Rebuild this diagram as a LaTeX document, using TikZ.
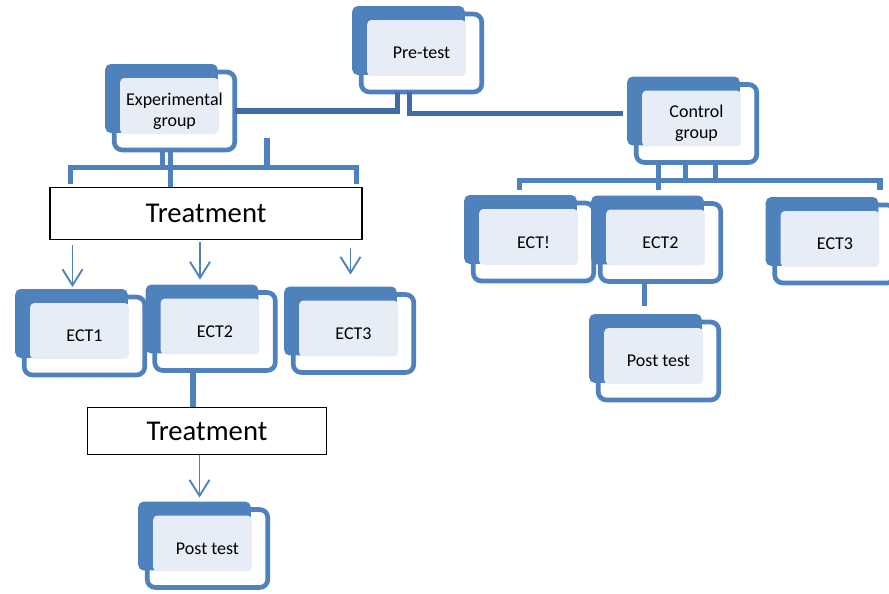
\documentclass[tikz,border=0pt]{standalone}
\usepackage{fontspec}
\setmainfont{Carlito}
\usepackage{tikz}
\usetikzlibrary{calc,positioning,arrows.meta}
\pgfdeclarelayer{background}
\pgfsetlayers{background,main}
\definecolor{bo}{RGB}{79,129,189}
\definecolor{bd}{RGB}{65,108,163}
\definecolor{bl}{RGB}{231,237,246}
\tikzset{
  card/.style={minimum width=90pt,minimum height=58pt,inner sep=0pt,align=center,
               font=\fontsize{13.5}{15.5}\selectfont},
  treat/.style={draw,line width=1.1pt,fill=white,inner sep=0pt,
               font=\fontsize{21.5}{24}\selectfont},
  link/.style={bo,line width=3.8pt},
  pil/.style={bo,line width=1.4pt,-{Straight Barb[length=12pt,width=15pt]}}
}
\newcommand{\stackcard}[3]{%
  \node[card] (#1) at (#2) {#3};
  \begin{pgfonlayer}{background}
    \draw[bo,line width=3.5pt,fill=white,rounded corners=6pt] (#1.north west) rectangle (#1.south east);
    \fill[bo,rounded corners=4pt] ($(#1.north west)+(-9,-8)$) rectangle ($(#1.south east)+(-17,-17)$);
    \fill[bl,rounded corners=3pt] ($(#1.north west)+(6,6)$) rectangle ($(#1.south east)+(-16,-16)$);
  \end{pgfonlayer}}

\begin{document}
\begin{tikzpicture}[x=0.75pt,y=-0.75pt]
\useasboundingbox (0,0) rectangle (889,593);
\stackcard{pre}{421.5,53}{Pre-test}
\stackcard{exp}{174.5,111}{Experimental\\group}
\stackcard{ctrl}{696.5,123.5}{Control\\group}
\stackcard{ectl1}{84.5,336}{ECT1}
\stackcard{ectl2}{215,331.5}{ECT2}
\stackcard{ectl3}{353.5,333.5}{ECT3}
\stackcard{postl}{207.5,548.5}{Post test}
\stackcard{ectr1}{533.5,242}{ECT!}
\stackcard{ectr2}{660.5,242.5}{ECT2}
\stackcard{ectr3}{835,244}{ECT3}
\stackcard{postr}{658.5,361}{Post test}
\node[treat,minimum width=234pt,minimum height=39pt] (treat1) at (206,213.5) {Treatment};
\node[treat,minimum width=179pt,minimum height=35pt] (treat2) at (207,431) {Treatment};

\draw[link,bd] ($(pre.south)+(-24,0)$) |- (exp.east);
\draw[link,bd] ($(pre.south)+(-12,0)$) |- ($(ctrl.west)+(-13,-10)$);

\coordinate (ebar) at ($(treat1.north)+(0,-19)$);
\draw[link] ($(treat1.north west)+(21,-3)$) |- ($(treat1.north east)+(-6,-19)$) -- ($(treat1.north east)+(-6,-3)$);
\coordinate (e1) at ($(exp.south)+(-12,0)$);
\coordinate (e2) at ($(exp.south)+(-4,0)$);
\coordinate (stub) at (267,138);
\draw[link] (e1) -- (e1 |- ebar);
\draw[link] (e2) -- (e2 |- treat1.north);
\draw[link] (stub) -- (stub |- ebar);

\coordinate (a1) at ($(ectl1.north)+(-12,-10)$);
\coordinate (a2) at ($(ectl2.north)+(-15,-13)$);
\coordinate (a3) at ($(ectl3.north)+(-3,-20)$);
\draw[pil] ($(a1 |- treat1.south)+(0,5)$) -- (a1);
\draw[pil] ($(a2 |- treat1.south)+(0,2)$) -- (a2);
\draw[pil] ($(a3 |- treat1.south)+(0,8)$) -- (a3);

\coordinate (l2) at ($(ectl2.south)+(-22,0)$);
\draw[link] (l2) -- (l2 |- treat2.north);
\coordinate (a4) at ($(postl.north)+(-8,-12)$);
\draw[pil] (a4 |- treat2.south) -- (a4);

\coordinate (cbar) at ($(ctrl.south)+(0,18)$);
\coordinate (c1) at ($(ectr1.north)+(-14,-13)$);
\coordinate (c3) at ($(ectr3.north)+(45,-15)$);
\draw[link] (c1) |- (cbar) -| (c3);
\coordinate (k1) at ($(ctrl.south)+(-38,0)$);
\coordinate (k2) at ($(ctrl.south)+(-11,0)$);
\coordinate (k3) at ($(ctrl.south)+(19,0)$);
\draw[link] (k1) -- (k1 |- c1);
\draw[link] (k2) -- (k2 |- cbar);
\draw[link] (k3) -- (k3 |- cbar);

\coordinate (r2) at ($(ectr2.south)+(-16,0)$);
\draw[link] (r2) -- ($(r2 |- postr.north)+(0,-16)$);
\end{tikzpicture}
\end{document}
